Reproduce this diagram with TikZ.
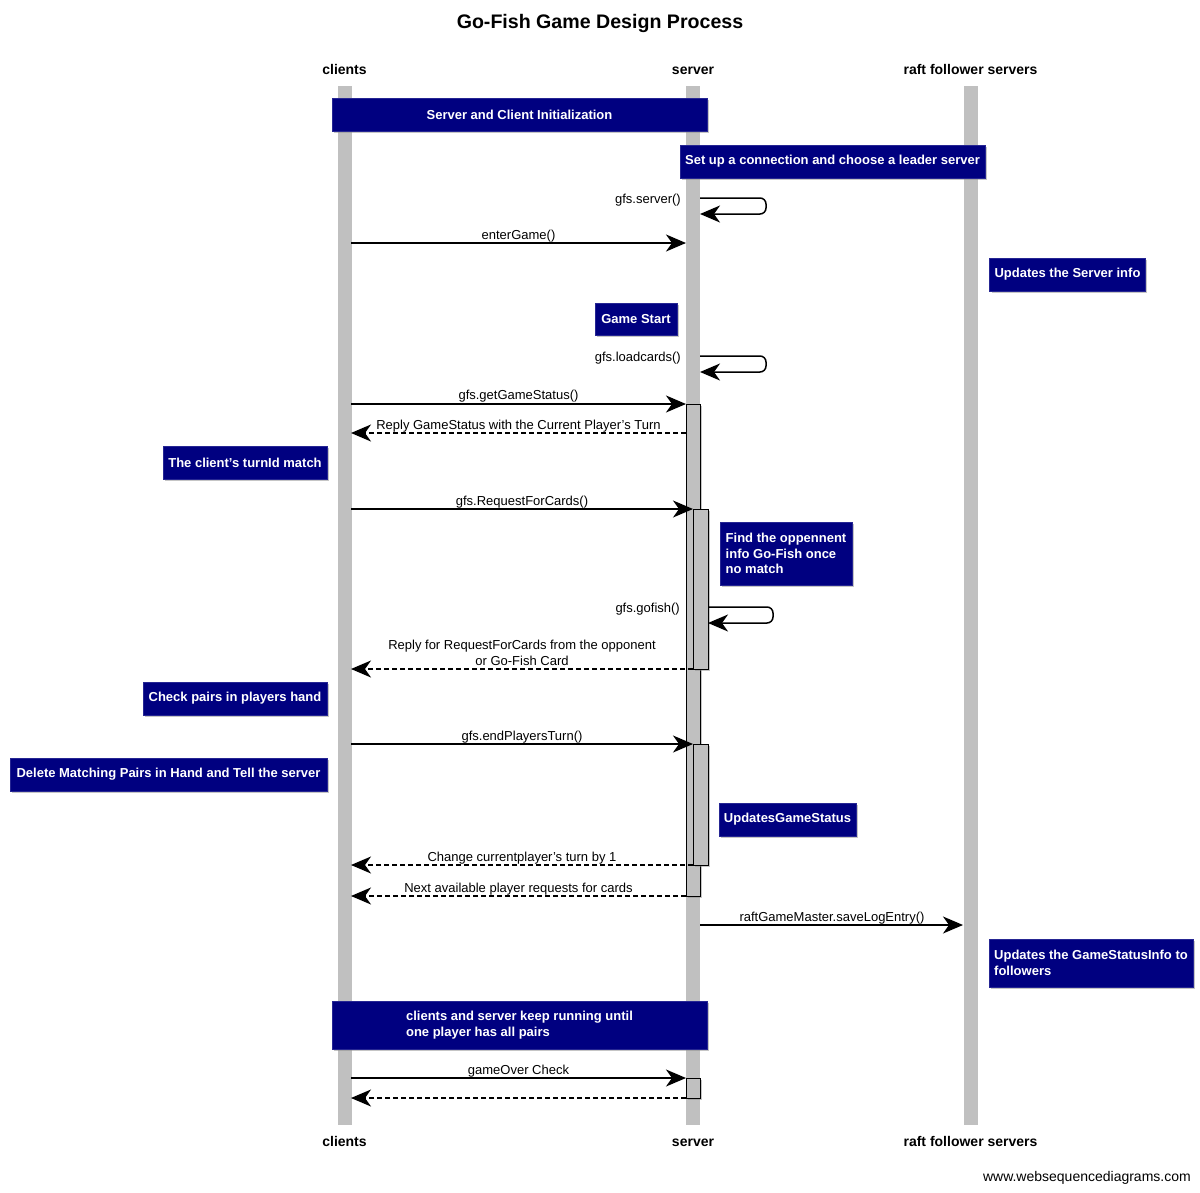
\documentclass[tikz,border=0pt]{standalone}
\usepackage{fontspec}
\setmainfont{Liberation Sans}
\usetikzlibrary{arrows.meta,shadows}
\definecolor{notebg}{HTML}{000080}
\definecolor{lifegray}{HTML}{C0C0C0}
\tikzset{
  lifeline/.style={fill=lifegray, draw=none, minimum width=14pt, inner sep=0pt},
  actbox/.style={fill=lifegray, draw=black, line width=1pt, inner sep=0pt, outer sep=0pt,
    drop shadow={shadow xshift=1.5pt, shadow yshift=-1.5pt, fill=black!45}},
  note/.style={fill=notebg, draw=notebg!85!white, line width=0.6pt, text=white,
    font=\bfseries\fontsize{13}{15.5}\selectfont, inner xsep=5pt, inner ysep=0pt,
    align=left, drop shadow={shadow xshift=2pt, shadow yshift=-2pt, fill=black!45}},
  msg/.style={line width=1.5pt, -{Stealth[length=20pt,width=17pt,inset=6pt]}},
  reply/.style={msg, dash pattern=on 5pt off 3pt},
  lbl/.style={font=\fontsize{13}{15.5}\selectfont, inner sep=0pt},
  hdr/.style={font=\bfseries\fontsize{14}{16}\selectfont, inner sep=0pt},
}
\begin{document}
\begin{tikzpicture}[x=1pt,y=-1pt]
\useasboundingbox (0,0) rectangle (1200,1192);
\fill[white] (0,0) rectangle (1200,1192);

% title
\node[font=\bfseries\fontsize{19.6}{22}\selectfont, inner sep=0pt, anchor=base] (title) at (600,28) {Go-Fish Game Design Process};

% headers
\node[hdr, anchor=base] (hc) at (344.5,74) {clients};
\node[hdr, anchor=base] (hs) at (693,74) {server};
\node[hdr, anchor=base] (hr) at (970.5,74) {raft follower servers};
\node[hdr, anchor=base] (fc) at (344.5,1146.5) {clients};
\node[hdr, anchor=base] (fs) at (693,1146.5) {server};
\node[hdr, anchor=base] (fr) at (970.5,1146.5) {raft follower servers};

% lifelines
\node[lifeline, minimum height=1039pt] (LC) at (344.5,605.5) {};
\node[lifeline, minimum height=1039pt] (LS) at (693,605.5) {};
\node[lifeline, minimum height=1039pt] (LR) at (970.5,605.5) {};

% activations
\node[actbox, minimum width=14pt, minimum height=492pt] (A1) at (693,650) {};
\node[actbox, minimum width=15pt, minimum height=160pt] (A2) at (700.5,589) {};
\node[actbox, minimum width=15pt, minimum height=121pt] (A3) at (700.5,804.5) {};
\node[actbox, minimum width=14pt, minimum height=20pt] (A4) at (693,1088) {};

% notes
\node[note, minimum width=375pt, minimum height=33pt, align=center] (n1) at (519.5,114.5) {Server and Client Initialization};
\node[note, minimum width=303pt, minimum height=33pt] (n2) at (832.5,161.5) {Set up a connection and choose a leader server};
\node[note, minimum width=155pt, minimum height=33pt] (n3) at (1067.5,274.5) {Updates the Server info};
\node[note, minimum width=82pt, minimum height=32pt] (n4) at (636,319) {Game Start};
\node[note, minimum width=164pt, minimum height=33pt] (n5) at (245,462.5) {The client's turnId match};
\node[note, minimum width=132pt, minimum height=63pt] (n6) at (786,553.5) {Find the oppennent\\info Go-Fish once\\no match};
\node[note, minimum width=184pt, minimum height=33pt] (n7) at (235,698.5) {Check pairs in players hand};
\node[note, minimum width=317pt, minimum height=33pt] (n8) at (168.5,774.5) {Delete Matching Pairs in Hand and Tell the server};
\node[note, minimum width=135pt, minimum height=33pt] (n9) at (787.5,819.5) {UpdatesGameStatus};
\node[note, minimum width=202pt, minimum height=48pt] (n10) at (1091,963) {Updates the GameStatusInfo to\\followers};
\node[note, minimum width=375pt, minimum height=48pt] (n11) at (519.5,1025) {clients and server keep running until\\one player has all pairs};

% message end points
\coordinate (s1a) at (700,198);  \coordinate (s1b) at (766,198);
\coordinate (s1c) at (766,214);  \coordinate (s1d) at (700,214);
\coordinate (m1a) at (351,243);  \coordinate (m1b) at (686,243);
\coordinate (s2a) at (700,356);  \coordinate (s2b) at (766,356);
\coordinate (s2c) at (766,372);  \coordinate (s2d) at (700,372);
\coordinate (m2a) at (351,404);
\coordinate (r1a) at (686,433);  \coordinate (r1b) at (351,433);
\coordinate (m3a) at (351,509);
\coordinate (s3a) at (708,607);  \coordinate (s3b) at (773,607);
\coordinate (s3c) at (773,623);  \coordinate (s3d) at (708,623);
\coordinate (r2a) at (693,669);  \coordinate (r2b) at (351,669);
\coordinate (m4a) at (351,744);
\coordinate (r3a) at (693,865);  \coordinate (r3b) at (351,865);
\coordinate (r4a) at (686,896);  \coordinate (r4b) at (351,896);
\coordinate (m5a) at (700,925);  \coordinate (m5b) at (963,925);
\coordinate (m6a) at (351,1078);
\coordinate (r5a) at (686,1098); \coordinate (r5b) at (351,1098);

% messages
\draw[msg, rounded corners=6pt] (s1a) -- (s1b) -- (s1c) -- (s1d);
\node[lbl, anchor=base east] (l1) at (681,203) {gfs.server()};

\draw[msg] (m1a) -- (m1b);
\node[lbl, anchor=base] (l2) at (518.5,239) {enterGame()};

\draw[msg, rounded corners=6pt] (s2a) -- (s2b) -- (s2c) -- (s2d);
\node[lbl, anchor=base east] (l3) at (681,361) {gfs.loadcards()};

\draw[msg] (m2a) -- (m2a -| A1.west);
\node[lbl, anchor=base] (l4) at (518.5,399) {gfs.getGameStatus()};

\draw[reply] (r1a) -- (r1b);
\node[lbl, anchor=base] (l5) at (518.5,429) {Reply GameStatus with the Current Player's Turn};

\draw[msg] (m3a) -- (m3a -| A2.west);
\node[lbl, anchor=base] (l6) at (522,505) {gfs.RequestForCards()};

\draw[msg, rounded corners=6pt] (s3a) -- (s3b) -- (s3c) -- (s3d);
\node[lbl, anchor=base east] (l7) at (680,612) {gfs.gofish()};

\draw[reply] (r2a) -- (r2b);
\node[lbl, anchor=base] (l8a) at (522,649.5) {Reply for RequestForCards from the opponent};
\node[lbl, anchor=base] (l8b) at (522,665) {or Go-Fish Card};

\draw[msg] (m4a) -- (m4a -| A3.west);
\node[lbl, anchor=base] (l9) at (522,740) {gfs.endPlayersTurn()};

\draw[reply] (r3a) -- (r3b);
\node[lbl, anchor=base] (l10) at (522,861) {Change currentplayer's turn by 1};

\draw[reply] (r4a) -- (r4b);
\node[lbl, anchor=base] (l11) at (518.5,892) {Next available player requests for cards};

\draw[msg] (m5a) -- (m5b);
\node[lbl, anchor=base] (l12) at (832,921) {raftGameMaster.saveLogEntry()};

\draw[msg] (m6a) -- (m6a -| A4.west);
\node[lbl, anchor=base] (l13) at (518.5,1074) {gameOver Check};

\draw[reply] (r5a) -- (r5b);

% footer
\node[font=\fontsize{14}{16}\selectfont, inner sep=0pt, anchor=base east] (foot) at (1191,1181) {www.websequencediagrams.com};
\end{tikzpicture}
\end{document}
